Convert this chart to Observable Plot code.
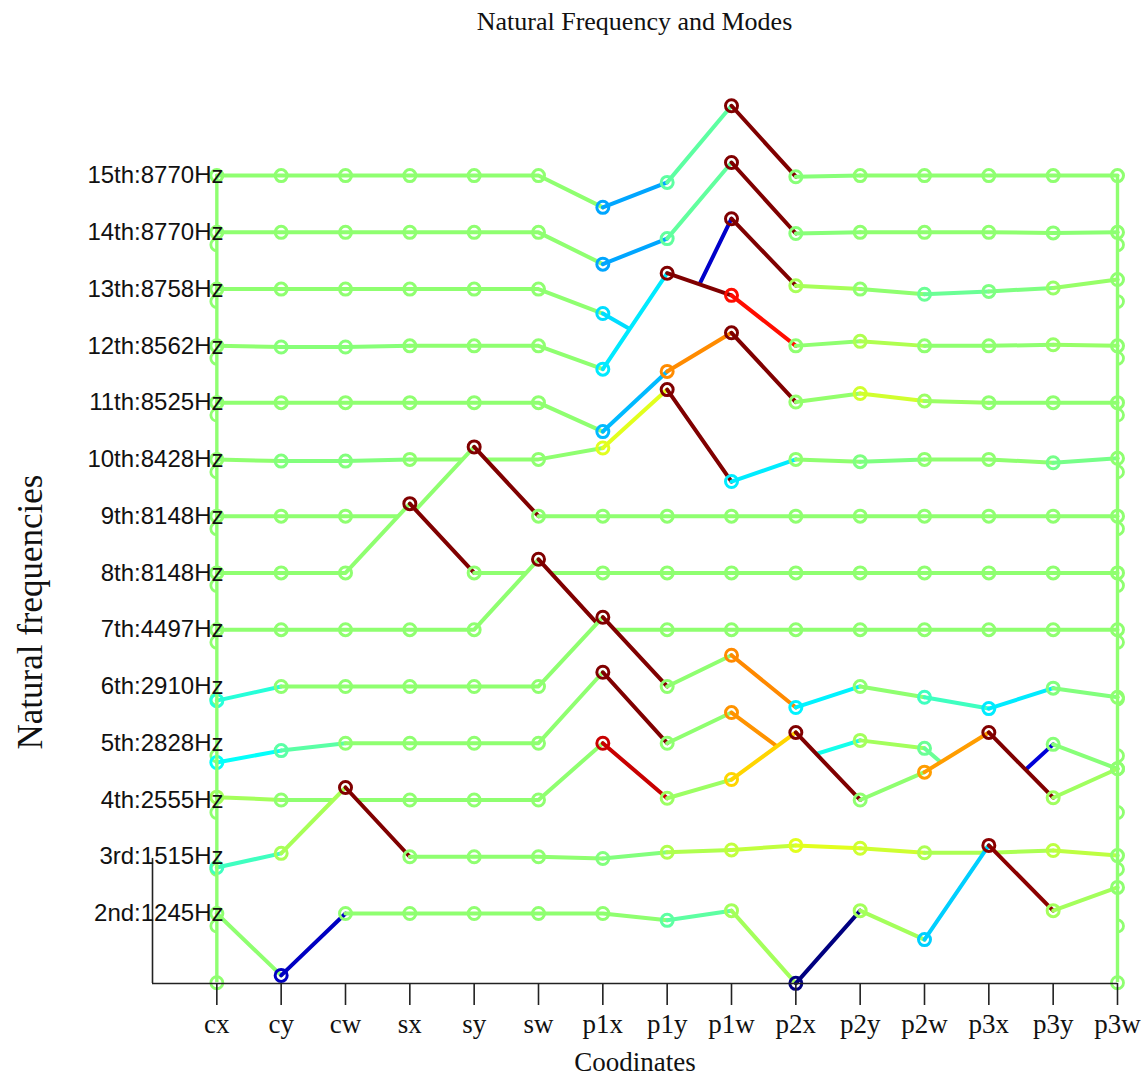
<!DOCTYPE html>
<html>
<head>
<meta charset="utf-8">
<script src="https://cdn.jsdelivr.net/npm/d3@7"></script>
<script src="https://cdn.jsdelivr.net/npm/@observablehq/plot@0.6"></script>
<style>
  html, body { margin: 0; padding: 0; background: #fff; }
  body { width: 1143px; height: 1076px; overflow: hidden; }
  #title { height: 40px; box-sizing: border-box; padding-top: 7px; padding-left: 126px; text-align: center;
           font-family: "Liberation Serif", serif; font-size: 26px; line-height: 30px; color: #111; }
  #chart svg { display: block; }
</style>
</head>
<body>
<div id="title">Natural Frequency and Modes</div>
<div id="chart"></div>
<script>
// ---- data ----
const coords = ["cx","cy","cw","sx","sy","sw","p1x","p1y","p1w","p2x","p2y","p2w","p3x","p3y","p3w"];
const modeLabels = ["2nd:1245Hz","3rd:1515Hz","4th:2555Hz","5th:2828Hz","6th:2910Hz","7th:4497Hz","8th:8148Hz",
                    "9th:8148Hz","10th:8428Hz","11th:8525Hz","12th:8562Hz","13th:8758Hz","14th:8770Hz","15th:8770Hz"];
// mode-shape displacements (in units of the spacing between modes), one value per coordinate
const mode2  = [0, -1.09, 0, 0, 0, 0, 0, -0.12, 0.05, -1.23, 0.05, -0.46, 1.20, 0.05, 0.46];
const mode3  = [-0.19, 0.06, 1.22, 0, 0, 0, -0.03, 0.08, 0.12, 0.20, 0.15, 0.07, 0.07, 0.11, 0.02];
const mode4  = [0.05, 0, 0, 0, 0, 0, 1.00, 0.03, 0.36, 1.19, 0, 0.49, 1.19, 0.04, 0.55];
const mode5  = [-0.34, -0.13, 0, 0, 0, 0, 1.25, 0, 0.54, -0.30, 0.05, -0.09, -1.06, -0.02, -0.45];
const mode6  = [-0.25, 0, 0, 0, 0, 0, 1.22, 0, 0.55, -0.37, 0, -0.19, -0.39, -0.03, -0.19];
const mode7  = [0, 0, 0, 0, 0, 1.24, 0, 0, 0, 0, 0, 0, 0, 0, 0];
const mode8  = [0, 0, 0, 1.22, 0, 0, 0, 0, 0, 0, 0, 0, 0, 0, 0];
const mode9  = [0, 0, 0, 0, 1.22, 0, 0, 0, 0, 0, 0, 0, 0, 0, 0];
const mode10 = [0, -0.03, -0.03, 0, 0, 0, 0.20, 1.23, -0.39, 0, -0.04, 0, 0, -0.06, 0.02];
const mode11 = [0, 0, 0, 0, 0, 0, -0.51, 0.55, 1.23, 0.01, 0.16, 0.03, 0, 0, 0];
const mode12 = [0, -0.02, -0.02, 0, 0, 0, -0.41, 1.28, 0.89, 0, 0.08, 0, 0, 0.02, 0];
const mode13 = [0, 0, 0, 0, 0, 0, -0.43, -1.08, 1.24, 0.06, 0, -0.09, -0.04, 0.02, 0.17];
const mode14 = [0, 0, 0, 0, 0, 0, -0.56, -0.11, 1.23, -0.02, 0, 0, 0, -0.01, 0];
const mode15 = [0, 0, 0, 0, 0, 0, -0.56, -0.12, 1.23, -0.02, 0, 0, 0, 0, 0];
// small edge markers drawn just under each mode's baseline at the first and last coordinate
const edgeModes = [1, 2, 3, 4, 5, 6, 7, 8, 9, 10, 11, 12, 13, 14];

// jet colormap stops (normalised displacement -1..1)
const jetStops  = [-1, -0.78, -0.28, 0.22, 0.72, 1];
const jetColors = ["#000080", "#0000ff", "#00ffff", "#ffff00", "#ff0000", "#800000"];

// ---- build tables ----
const modes = [mode2, mode3, mode4, mode5, mode6, mode7, mode8, mode9, mode10, mode11, mode12, mode13, mode14, mode15];
const last = coords.length - 1;
const rows = modes.map((d, j) => {
  const k = j + 2;
  const m = d3.max(d, Math.abs);
  // colour = normalised displacement; the closing vertex (p3w) carries the neutral colour
  return d.map((v, i) => ({mode: k, x: i + 1, y: k + v, c: i === last ? 0 : v / m}));
});
const yMin = 0.767, yTop = 16.675;
const edgeOffset = 0.22;
const xFirst = 1, xLast = coords.length;
const edgeRows = edgeModes.flatMap(k => [xFirst, xLast].map(x => ({mode: k, x, y: k - edgeOffset})));

const marks = [];
// small edge markers (partly hidden by the mode fills)
marks.push(Plot.dot(edgeRows.filter(r => r.mode > 1), {x: "x", y: "y", r: 6, stroke: () => 0, strokeWidth: 2.8}));
// ridgeline: top mode first, each lower mode masks what lies beneath it
for (let j = rows.length - 1; j >= 0; --j) {
  const R = rows[j];
  marks.push(Plot.areaY(R, {x: "x", y1: yMin, y2: "y", fill: "white"}));
  marks.push(Plot.line(R, {x: "x", y: "y", z: null, stroke: "c", strokeWidth: 4, strokeLinejoin: "round", strokeLinecap: "round"}));
  marks.push(Plot.dot(R, {x: "x", y: "y", r: 6, stroke: "c", strokeWidth: 3}));
}
// vertical edge lines
marks.push(Plot.ruleX([xFirst, xLast], {y1: 1 - edgeOffset, y2: rows.length + 1, stroke: () => 0, strokeWidth: 3.4}));
marks.push(Plot.dot(edgeRows.filter(r => r.mode === 1), {x: "x", y: "y", r: 6, stroke: () => 0, strokeWidth: 2.8}));
// axes lines
marks.push(Plot.ruleY([yMin], {x1: 0, x2: xLast, stroke: "#222", strokeWidth: 1.6}));
marks.push(Plot.ruleX([0], {y1: yMin, y2: 2.97, stroke: "#222", strokeWidth: 1.6}));
marks.push(Plot.axisX(coords.map((c, i) => i + 1), {
  anchor: "bottom", tickSize: 22, tickPadding: 8, tickFormat: i => coords[i - 1],
  fontSize: 27, fontFamily: "Liberation Serif", label: null, stroke: "#222", strokeWidth: 1.6, color: "#111"
}));
marks.push(Plot.axisY(modeLabels.map((l, i) => i + 2), {
  anchor: "left", tickSize: 0, tickPadding: -71, tickFormat: k => modeLabels[k - 2],
  fontSize: 24, fontFamily: "Liberation Sans", label: null, color: "#111"
}));
marks.push(Plot.text(["Coodinates"], {text: d => d, frameAnchor: "bottom", dy: 79, lineAnchor: "middle",
  textAnchor: "middle", fontSize: 27, fontFamily: "Liberation Serif", fill: "#111"}));
marks.push(Plot.text(["Natural frequencies"], {text: d => d, frameAnchor: "left", rotate: -90, dx: -122, dy: 80,
  textAnchor: "middle", lineAnchor: "middle", fontSize: 35, fontFamily: "Liberation Serif", fill: "#111"}));

const chart = Plot.plot({
  width: 1143, height: 1036,
  marginLeft: 152, marginRight: 26, marginTop: 40, marginBottom: 93,
  x: {type: "linear", domain: [0, xLast]},
  y: {type: "linear", domain: [yMin, yTop]},
  color: {type: "linear", domain: jetStops, range: jetColors},
  style: {background: "white", color: "#111", fontFamily: "Liberation Serif", overflow: "visible"},
  marks
});
document.getElementById("chart").appendChild(chart);
</script>
</body>
</html>
